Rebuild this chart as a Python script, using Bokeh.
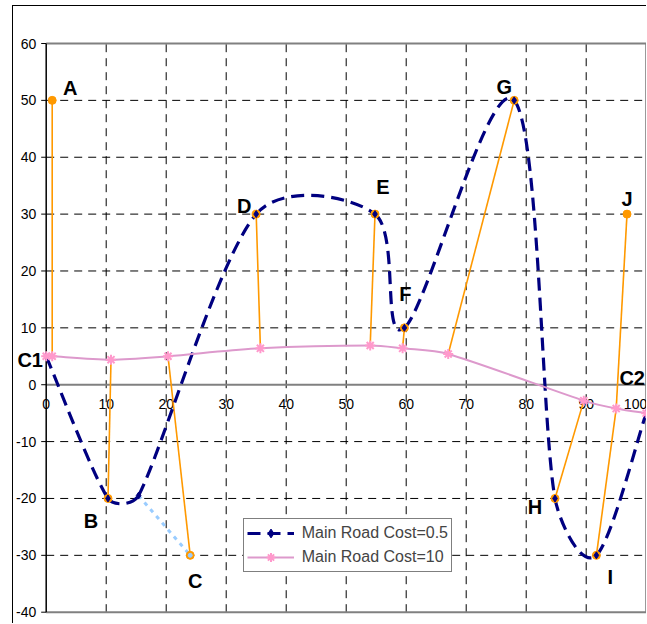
import math
from bokeh.plotting import figure
from bokeh.models import ColumnDataSource, Legend, LegendItem
from bokeh.core.properties import value
from bokeh.embed import file_html
from bokeh.resources import INLINE

# ---------------- data ----------------
loc_names = ["A", "B", "C", "D", "E", "F", "G", "H", "I", "J"]
loc_x = [1, 10.3, 24, 35, 54.8, 59.7, 78, 84.8, 91.7, 96.8]
loc_y = [50, -20, -30, 30, 30, 10, 50, -20, -30, 30]
# which point of the "Main Road Cost=10" route each location is joined to
loc_link = [1, 2, 3, 4, 5, 6, 7, 8, 9, 9]

depot_names = ["C1", "C2"]
depot_x = [0, 100]
depot_y = [5, -5]

road05_x = [0, 10.3, 15.4, 35, 54.8, 59.7, 78, 84.8, 91.7, 100]
road05_y = [5, -20, -19.5, 30, 30, 10, 50, -20, -30, -5]

road10_x = [0, 1, 10.8, 20.3, 35.7, 54, 59.4, 67, 89.6, 95, 100]
road10_y = [5, 5, 4.4, 5, 6.4, 6.9, 6.4, 5.4, -2.8, -4.2, -5]

branch_x = [15.4, 24]
branch_y = [-19.5, -30]

x_ticks = [0, 10, 20, 30, 40, 50, 60, 70, 80, 90, 100]
x_tick_labels = ["0", "10", "20", "30", "40", "50", "60", "70", "80", "90", "100"]
y_ticks = [-40, -30, -20, -10, 0, 10, 20, 30, 40, 50, 60]
y_tick_labels = ["-40", "-30", "-20", "-10", "0", "10", "20", "30", "40", "50", "60"]

# ---------------- layout / style ----------------
X_MIN, X_MAX = x_ticks[0], x_ticks[-1]
Y_MIN, Y_MAX = y_ticks[0], y_ticks[-1]
OX, OY = 13, 6                      # canvas origin on the page (inside chart-area border)
W, H = 647 - OX, 624 - OY
PLOT_L, PLOT_R = 45.7 - OX, 645.7 - OX   # canvas px of X_MIN / X_MAX
PLOT_T, PLOT_B = 43.0 - OY, 611.7 - OY   # canvas px of Y_MAX / Y_MIN
SX = (PLOT_R - PLOT_L) / (X_MAX - X_MIN)
SY = (PLOT_B - PLOT_T) / (Y_MAX - Y_MIN)
x_range = (X_MIN - PLOT_L / SX, X_MAX + (W - PLOT_R) / SX)
y_range = (Y_MIN - (H - PLOT_B) / SY, Y_MAX + PLOT_T / SY)

FONT = "Liberation Sans"
NAVY = "#000080"
ORANGE = "#FF9900"
PINK_LINE = "#DD99CC"
PINK_MARK = "#FF99CC"
LIGHTBLUE = "#99CCFF"
GRID_DASH = "8 6"

# label offsets in screen px (right, down)
label_dx = [18, -17, 5, -12, 8, 1, -10, -20, 14, 0, -16, -14]
label_dy = [-12, 23, 26, -8, -27, -34, -13, 9, 22, -15, 4, -35]


def smooth_segments(xs, ys):
    """Bezier control points (Excel-like smoothing) computed in screen space."""
    P = [(x * SX, y * SY) for x, y in zip(xs, ys)]
    n = len(P)
    out = {k: [] for k in ("x0", "y0", "x1", "y1", "cx0", "cy0", "cx1", "cy1")}

    def clamp(v, m):
        L = math.hypot(*v)
        if L > m and L > 0:
            return (v[0] * m / L, v[1] * m / L)
        return v

    for i in range(n - 1):
        p0, p1 = P[i], P[i + 1]
        pm = P[i - 1] if i > 0 else P[i]
        pn = P[i + 2] if i + 2 < n else P[i + 1]
        seg = math.hypot(p1[0] - p0[0], p1[1] - p0[1])
        t0 = clamp(((p1[0] - pm[0]) / 6, (p1[1] - pm[1]) / 6), seg / 3)
        t1 = clamp(((pn[0] - p0[0]) / 6, (pn[1] - p0[1]) / 6), seg / 3)
        c0 = (p0[0] + t0[0], p0[1] + t0[1])
        c1 = (p1[0] - t1[0], p1[1] - t1[1])
        out["x0"].append(xs[i]); out["y0"].append(ys[i])
        out["x1"].append(xs[i + 1]); out["y1"].append(ys[i + 1])
        out["cx0"].append(c0[0] / SX); out["cy0"].append(c0[1] / SY)
        out["cx1"].append(c1[0] / SX); out["cy1"].append(c1[1] / SY)
    return ColumnDataSource(out)


p = figure(width=W, height=H, x_range=x_range, y_range=y_range,
           output_backend="svg", toolbar_location=None,
           x_axis_location=None, y_axis_location=None,
           min_border_left=0, min_border_right=0, min_border_top=0,
           min_border_bottom=0, background_fill_color="white",
           border_fill_color="white")
p.styles = {"margin-left": "%dpx" % (OX - 1), "margin-top": "%dpx" % (OY - 1),
            "border-left": "1px solid black", "border-top": "1px solid black"}
p.outline_line_color = None
p.grid.visible = False

# ---- grid ----
gx = [t for t in x_ticks if t not in (X_MIN, X_MAX)]
gy = [t for t in y_ticks if t not in (Y_MIN, 0, Y_MAX)]
p.segment(x0=gx, y0=[Y_MIN] * len(gx), x1=gx, y1=[Y_MAX] * len(gx),
          line_color="black", line_width=1, line_dash=GRID_DASH)
p.segment(x0=[X_MIN] * len(gy), y0=gy, x1=[X_MAX] * len(gy), y1=gy,
          line_color="black", line_width=1, line_dash=GRID_DASH)

# ---- plot-area border (top, bottom, right) and zero line ----
p.segment(x0=[X_MIN, X_MIN, X_MAX], y0=[Y_MAX, Y_MIN, Y_MIN],
          x1=[X_MAX, X_MAX, X_MAX], y1=[Y_MAX, Y_MIN, Y_MAX],
          line_color="#808080", line_width=2)
p.segment(x0=[X_MIN], y0=[0], x1=[X_MAX], y1=[0], line_color="#808080", line_width=2)

# ---- value axis (left) ----
p.segment(x0=[X_MIN], y0=[Y_MIN], x1=[X_MIN], y1=[Y_MAX], line_color="black", line_width=1.5)
p.ray(x=[X_MIN] * len(y_ticks), y=y_ticks, length=5, length_units="screen",
      angle=math.pi, line_color="black", line_width=1)
p.text(x=[X_MIN] * len(y_ticks), y=y_ticks, text=y_tick_labels, x_offset=-10,
       text_align="right", text_baseline="middle", text_font=value(FONT),
       text_font_size="14px", text_color="black")

# ---- category axis labels on the zero line ----
xt_src = ColumnDataSource(dict(
    x=x_ticks, y=[0] * len(x_ticks), t=x_tick_labels,
    align=["center"] * (len(x_ticks) - 1) + ["right"],
    dx=[0] * (len(x_ticks) - 1) + [1]))
p.text(x="x", y="y", text="t", source=xt_src, x_offset="dx", y_offset=19,
       text_align="align", text_baseline="middle", text_font=value(FONT),
       text_font_size="14px", text_color="black")

# ---- orange links location -> road point ----
link_src = ColumnDataSource(dict(
    x0=loc_x, y0=loc_y,
    x1=[road10_x[k] for k in loc_link], y1=[road10_y[k] for k in loc_link]))
p.segment("x0", "y0", "x1", "y1", source=link_src, line_color=ORANGE, line_width=1.6)

# light blue dotted branch
p.line(branch_x, branch_y, line_color=LIGHTBLUE, line_width=3, line_dash="4 5")

# ---- routes ----
r05 = p.bezier("x0", "y0", "x1", "y1", "cx0", "cy0", "cx1", "cy1",
               source=smooth_segments(road05_x, road05_y),
               line_color=NAVY, line_width=3.2, line_dash="13 7")
r10 = p.bezier("x0", "y0", "x1", "y1", "cx0", "cy0", "cx1", "cy1",
               source=smooth_segments(road10_x, road10_y),
               line_color=PINK_LINE, line_width=2)

p.scatter(loc_x, loc_y, marker="circle", size=8, fill_color=ORANGE, line_color=ORANGE)
m05 = p.scatter(road05_x, road05_y, marker="diamond", size=7, fill_color=NAVY, line_color=NAVY)
p.scatter(branch_x[-1:], branch_y[-1:], marker="circle", size=4,
          fill_color=LIGHTBLUE, line_color=LIGHTBLUE)
m10 = p.scatter(road10_x, road10_y, marker="asterisk", size=10, line_color=PINK_MARK, line_width=2)

# ---- point labels ----
lab_src = ColumnDataSource(dict(
    x=loc_x + depot_x, y=loc_y + depot_y, t=loc_names + depot_names,
    dx=label_dx, dy=label_dy))
p.text(x="x", y="y", text="t", source=lab_src, x_offset="dx", y_offset="dy",
       text_align="center", text_baseline="middle", text_font=value(FONT),
       text_font_size="20px", text_font_style="bold", text_color="black")

# ---- legend ----
legend = Legend(items=[LegendItem(label="Main Road Cost=0.5", renderers=[r05, m05]),
                       LegendItem(label="Main Road Cost=10", renderers=[r10, m10])],
                location=(242.7 - OX, 624 - 572), border_line_color="black",
                border_line_width=1, background_fill_color="white",
                background_fill_alpha=1, label_text_font=FONT,
                label_text_font_size="16px", glyph_width=47, glyph_height=22,
                label_height=22, label_standoff=8, spacing=2, padding=3, margin=0)
p.add_layout(legend)

open("out.html", "w").write(file_html(p, INLINE))
